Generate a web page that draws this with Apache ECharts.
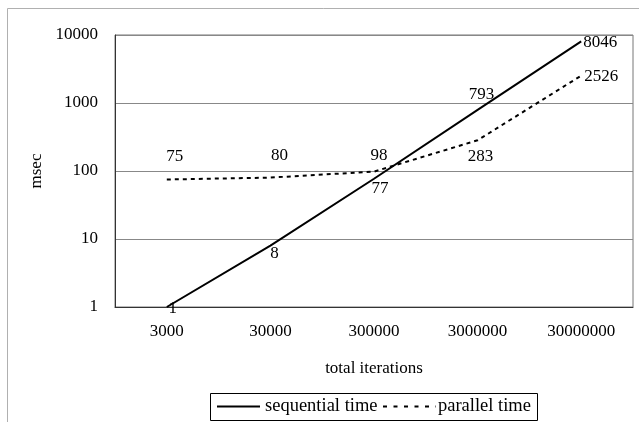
<!DOCTYPE html>
<html><head><meta charset="utf-8">
<script src="https://cdn.jsdelivr.net/npm/echarts@6/dist/echarts.min.js"></script>
<style>html,body{margin:0;padding:0;background:#fff}#c{width:639px;height:422px}</style>
</head><body><div id="c"></div>
<script>
const categories = ['3000','30000','300000','3000000','30000000'];
const sequentialTime = [1, 8, 77, 793, 8046];
const parallelTime = [75, 80, 98, 283, 2526];
const yTicks = [1, 10, 100, 1000, 10000];

const seqOffsets = [[6,2],[4,8],[6,10],[4,-15],[19,1]];
const parOffsets = [[8,-23],[9,-22],[5,-16],[3,16],[20,1]];
const FONT = '"Liberation Serif", "DejaVu Serif", serif';

function mk(vals, offs){
  return vals.map((v,i)=>({value:v, label:{offset:offs[i]}}));
}
const legendCommon = {
  orient:'horizontal', top:397, padding:0, itemHeight:14,
  itemStyle:{opacity:0},
  textStyle:{fontFamily:FONT, fontSize:18.5, color:'#000'}
};
const chart = echarts.init(document.getElementById('c'));
chart.setOption({
  animation:false,
  backgroundColor:'#fff',
  graphic:[
    {type:'rect', shape:{x:7.5,y:8.5,width:700,height:500}, style:{fill:'none',stroke:'#b0b0b0',lineWidth:1}, silent:true},
    {type:'rect', shape:{x:210.5,y:393.5,width:327,height:27}, style:{fill:'none',stroke:'#000',lineWidth:1}, silent:true}
  ],
  grid:{left:115, top:35, width:518, height:272, show:true, borderColor:'#777', borderWidth:1},
  xAxis:[{
    type:'category', data:categories, boundaryGap:true,
    name:'total iterations', nameLocation:'middle', nameGap:53,
    nameTextStyle:{fontFamily:FONT, fontSize:17, color:'#000'},
    axisLine:{lineStyle:{color:'#333'}},
    axisTick:{inside:true, length:4, lineStyle:{color:'#555'}},
    axisLabel:{fontFamily:FONT, fontSize:17, color:'#000', margin:16},
    splitLine:{show:false}
  },{
    type:'category', data:categories, boundaryGap:true, position:'bottom',
    axisLine:{show:false}, axisLabel:{show:false},
    axisTick:{inside:true, length:4, alignWithLabel:true, lineStyle:{color:'#555'}},
    splitLine:{show:false}
  }],
  yAxis:{
    type:'log', logBase:10, min:1, max:10000,
    name:'msec', nameLocation:'middle', nameGap:63, nameRotate:90,
    nameTextStyle:{fontFamily:FONT, fontSize:17, color:'#000'},
    axisLine:{show:true, lineStyle:{color:'#333'}},
    axisTick:{show:false},
    axisLabel:{fontFamily:FONT, fontSize:17, color:'#000', margin:17, formatter:v=>String(Math.round(v))},
    splitLine:{lineStyle:{color:'#888', width:1}}
  },
  legend:[
    Object.assign({}, legendCommon, {left:216, itemWidth:43, data:['sequential time']}),
    Object.assign({}, legendCommon, {left:382, itemWidth:53, data:['parallel time'],
      lineStyle:{type:[4,6.5], width:2},
      textStyle:{fontFamily:FONT, fontSize:18.5, color:'#000', padding:[0,0,0,-3]}})
  ],
  series:[{
    name:'sequential time', type:'line', data:mk(sequentialTime, seqOffsets),
    color:'#000', symbol:'circle', symbolSize:0.1,
    lineStyle:{color:'#000', width:2},
    label:{show:true, position:'inside', fontFamily:FONT, fontSize:17, color:'#000'}
  },{
    name:'parallel time', type:'line', data:mk(parallelTime, parOffsets),
    color:'#000', symbol:'circle', symbolSize:0.1,
    lineStyle:{color:'#000', width:2, type:[4,4]},
    label:{show:true, position:'inside', fontFamily:FONT, fontSize:17, color:'#000'}
  }]
});
</script></body></html>
